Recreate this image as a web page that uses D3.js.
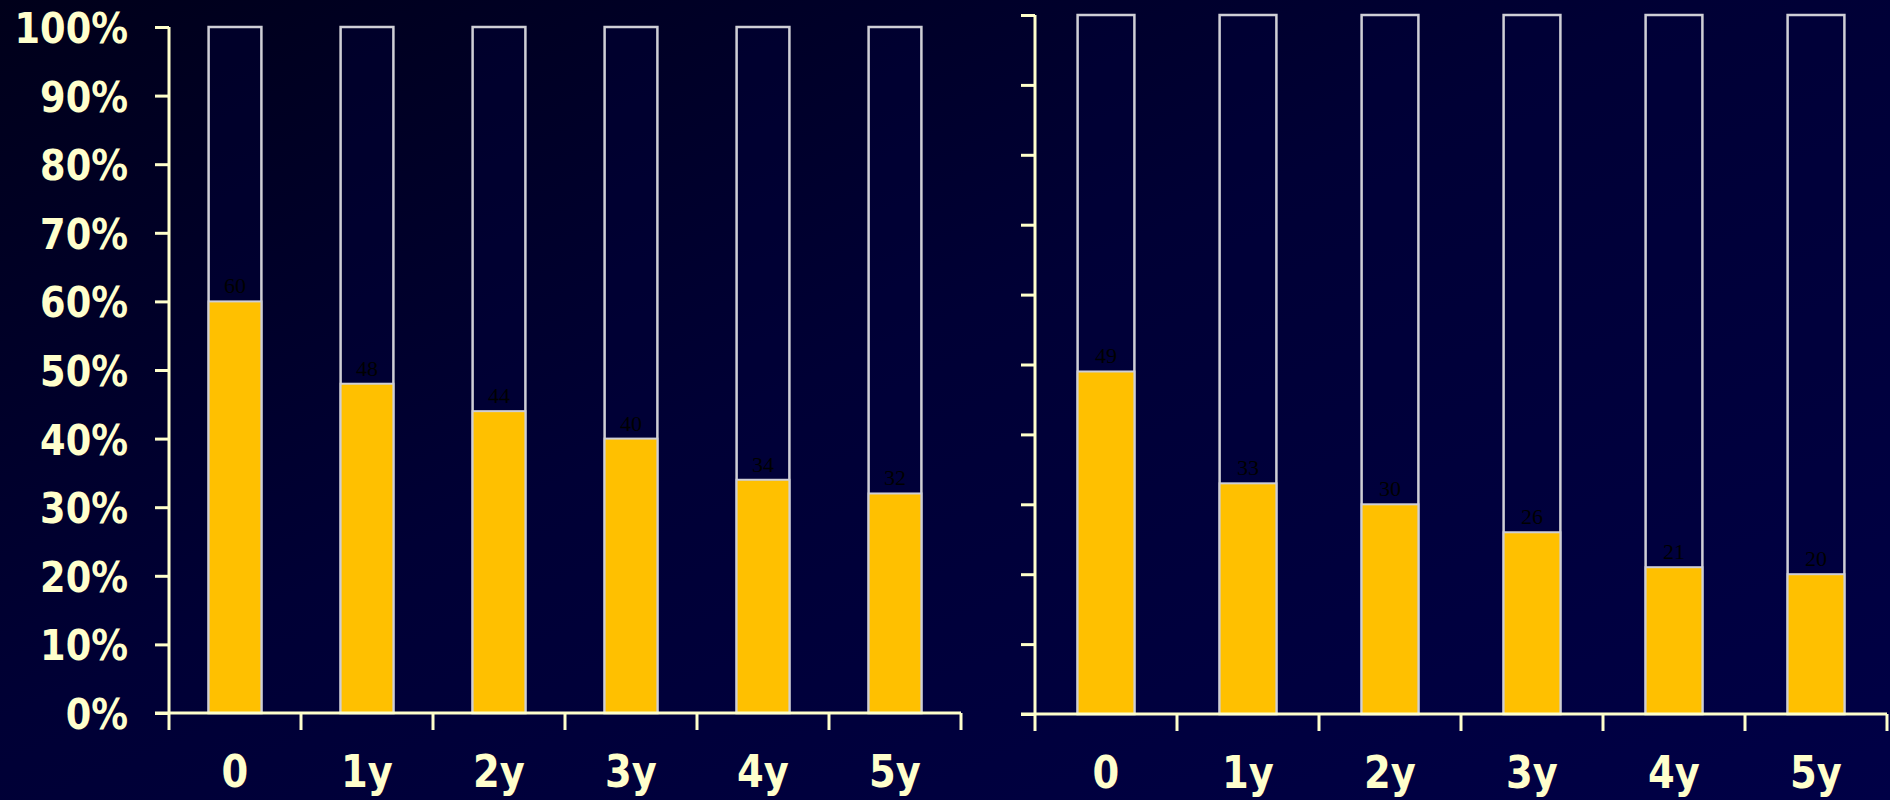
<!DOCTYPE html>
<html>
<head>
<meta charset="utf-8">
<script src="https://cdn.jsdelivr.net/npm/d3@7"></script>
<style>
  html, body { margin: 0; padding: 0; background: #000028; }
  svg { display: block; }
  .tick-label { font-family: "DejaVu Sans Condensed", "DejaVu Sans", sans-serif; font-stretch: condensed; font-weight: bold; fill: #FFFFCC; }
  .value-label { font-family: "Liberation Serif", "Times New Roman", serif; fill: #000; }
</style>
</head>
<body>
<svg id="chart" width="1890" height="800"></svg>
<script>
// Categories (follow-up time) shared by both panels
const categories = ["0", "1y", "2y", "3y", "4y", "5y"];
// Percent values per panel
const leftValues = [60, 48, 44, 40, 34, 32];
const rightValues = [49, 33, 30, 26, 21, 20];
// Y-axis tick values and labels (left panel only shows labels)
const yTicks = [0, 10, 20, 30, 40, 50, 60, 70, 80, 90, 100];
const yTickLabels = ["0%", "10%", "20%", "30%", "40%", "50%", "60%", "70%", "80%", "90%", "100%"];

const W = 1890, H = 800;
const svg = d3.select("#chart");

// Background: dark navy, getting bluer toward the lower right
const defs = svg.append("defs");
const grad = defs.append("linearGradient").attr("id", "bg")
  .attr("x1", "0%").attr("y1", "0%").attr("x2", "100%").attr("y2", "100%");
grad.append("stop").attr("offset", "0%").attr("stop-color", "#00001a");
grad.append("stop").attr("offset", "45%").attr("stop-color", "#000035");
grad.append("stop").attr("offset", "100%").attr("stop-color", "#000046");
svg.append("rect").attr("width", W).attr("height", H).attr("fill", "url(#bg)");

const AXIS = "#FFFFCC";
const BAR = "#FFC000";
const OUTLINE = "#cfcfd6";

function panel(opts) {
  const { values, x0, x1, yTop, yBottom, showLabels } = opts;
  const g = svg.append("g");

  const x = d3.scaleBand().domain(categories).range([x0, x1]).paddingInner(0).paddingOuter(0);
  const y = d3.scaleLinear().domain([0, 100]).range([yBottom, yTop]);
  const bw = x.bandwidth() * 0.4;
  const cx = c => x(c) + x.bandwidth() / 2;

  // Full-height outlined column (0–100%)
  g.selectAll("rect.frame").data(categories).join("rect")
    .attr("class", "frame")
    .attr("x", c => cx(c) - bw / 2)
    .attr("y", y(100))
    .attr("width", bw)
    .attr("height", y(0) - y(100))
    .attr("fill", "rgba(0,0,60,0.35)")
    .attr("stroke", OUTLINE)
    .attr("stroke-width", 2.5);

  // Filled share
  g.selectAll("rect.fill").data(values).join("rect")
    .attr("class", "fill")
    .attr("x", (v, i) => cx(categories[i]) - bw / 2)
    .attr("y", v => y(v))
    .attr("width", bw)
    .attr("height", v => y(0) - y(v))
    .attr("fill", BAR)
    .attr("stroke", OUTLINE)
    .attr("stroke-width", 2);

  // Value labels just above each fill
  g.selectAll("text.value-label").data(values).join("text")
    .attr("class", "value-label")
    .attr("x", (v, i) => cx(categories[i]))
    .attr("y", v => y(v) - 8)
    .attr("text-anchor", "middle")
    .attr("font-size", 22)
    .text(v => v);

  // Y axis
  const ys = 0.95;
  const yAxis = d3.axisLeft(y).tickValues(yTicks).tickSize(14).tickPadding(27)
    .tickFormat((d, i) => showLabels ? yTickLabels[i] : "");
  const ya = g.append("g").attr("transform", `translate(${x0},0)`).call(yAxis);
  ya.select(".domain").attr("stroke", AXIS).attr("stroke-width", 3).attr("d", `M0,${y(100)}V${y(0)}`);
  ya.selectAll(".tick line").attr("stroke", AXIS).attr("stroke-width", 3);
  ya.selectAll(".tick text")
    .attr("class", "tick-label")
    .attr("font-size", 43)
    .attr("dy", "0.36em")
    .attr("transform", `scale(${ys},1)`)
    .attr("x", -41 / ys);

  // X axis with ticks at band boundaries
  const xg = g.append("g").attr("transform", `translate(0,${yBottom})`);
  const bounds = categories.map(c => x(c)).concat([x1]);
  xg.append("line")
    .attr("x1", x0 - 14).attr("x2", x1)
    .attr("stroke", AXIS).attr("stroke-width", 3);
  xg.selectAll("line.xt").data(bounds).join("line")
    .attr("class", "xt")
    .attr("x1", d => d).attr("x2", d => d)
    .attr("y1", 0).attr("y2", 17)
    .attr("stroke", AXIS).attr("stroke-width", 3);

  const xAxis = d3.axisBottom(x).tickSize(0).tickPadding(0);
  const xa = g.append("g").attr("transform", `translate(0,${yBottom})`).call(xAxis);
  xa.select(".domain").remove();
  xa.selectAll(".tick text")
    .attr("class", "tick-label")
    .attr("font-size", 45)
    .attr("dy", 0)
    .attr("y", 74)
    .attr("x", 0)
    .attr("transform", "scale(0.95,1)");
}

panel({ values: leftValues, x0: 169, x1: 961, yTop: 27, yBottom: 713, showLabels: true });
panel({ values: rightValues, x0: 1035, x1: 1887, yTop: 15, yBottom: 714, showLabels: false });
</script>
</body>
</html>
